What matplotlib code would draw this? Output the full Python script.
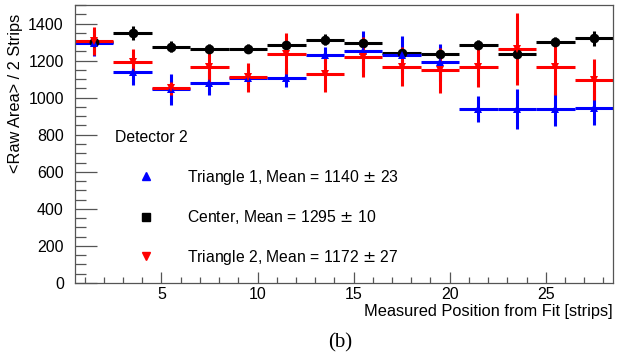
import matplotlib
matplotlib.use("Agg")
import matplotlib.pyplot as plt
from matplotlib.lines import Line2D
from matplotlib.ticker import MultipleLocator

plt.rcParams["font.family"] = ["Liberation Sans", "DejaVu Sans"]

# bin centres (2-strip bins from 0.5 to 28.5)
positions = [1.5, 3.5, 5.5, 7.5, 9.5, 11.5, 13.5, 15.5, 17.5, 19.5, 21.5, 23.5, 25.5, 27.5]
bin_half_width = [1.0] * len(positions)

center_vals = [1300, 1350, 1276, 1264, 1264, 1285, 1312, 1294, 1242, 1237, 1285, 1233, 1300, 1321]
center_errs = [25, 38, 27, 27, 25, 25, 30, 25, 25, 25, 25, 25, 25, 40]

tri1_vals = [1295, 1141, 1045, 1079, 1108, 1108, 1231, 1251, 1231, 1190, 940, 940, 937, 946]
tri1_errs = [70, 75, 85, 63, 40, 50, 45, 110, 100, 100, 70, 108, 90, 95]

tri2_vals = [1305, 1190, 1050, 1165, 1111, 1237, 1125, 1219, 1168, 1147, 1165, 1264, 1168, 1097]
tri2_errs = [75, 70, 35, 100, 78, 112, 97, 109, 105, 120, 110, 195, 155, 110]

labels = ["Triangle 1, Mean = 1140 $\\pm$ 23",
          "Center, Mean = 1295 $\\pm$ 10",
          "Triangle 2, Mean = 1172 $\\pm$ 27"]

fig = plt.figure(figsize=(6.3, 3.56), dpi=100)
ax = fig.add_axes([0.119, 0.205, 0.854, 0.781])

series = [
    (center_vals, center_errs, "black", "o", 7),
    (tri1_vals, tri1_errs, "blue", "^", 5.5),
    (tri2_vals, tri2_errs, "red", "v", 5.5),
]
for vals, errs, color, marker, ms in series:
    ax.errorbar(positions, vals, xerr=bin_half_width, yerr=errs, fmt=marker,
                color=color, ms=ms, elinewidth=2.2, capsize=0, mew=0)

ax.set_xlim(0.5, 28.5)
ax.set_ylim(0, 1500)
ax.xaxis.set_major_locator(MultipleLocator(5))
ax.xaxis.set_minor_locator(MultipleLocator(1))
ax.yaxis.set_major_locator(MultipleLocator(200))
ax.yaxis.set_minor_locator(MultipleLocator(50))
ax.tick_params(axis="both", which="both", direction="in", labelsize=11.5,
               color="#555555", width=0.9)
ax.tick_params(axis="y", which="major", length=16, pad=8)
ax.tick_params(axis="y", which="minor", length=8)
ax.tick_params(axis="x", which="major", length=8, pad=3)
ax.tick_params(axis="x", which="minor", length=4)
for spine in ax.spines.values():
    spine.set_color("#555555")
    spine.set_linewidth(0.9)

ax.set_xlabel("Measured Position from Fit [strips]", fontsize=11.8, loc="right")
ax.xaxis.set_label_coords(1.0, -0.075)
ax.set_ylabel("<Raw Area> / 2 Strips", fontsize=11.8, loc="top")
ax.yaxis.set_label_coords(-0.097, 0.968)

ax.text(0.074, 0.522, "Detector 2", transform=ax.transAxes, fontsize=11.3,
        va="center", ha="left")

handles = [
    Line2D([], [], ls="none", marker="^", color="blue", ms=6),
    Line2D([], [], ls="none", marker="s", color="black", ms=5.5),
    Line2D([], [], ls="none", marker="v", color="red", ms=6),
]
ax.legend(handles, labels, loc="upper left", bbox_to_anchor=(0.118, 0.415),
          frameon=False, fontsize=11.3, handlelength=1.0, handletextpad=2.1,
          labelspacing=1.38, borderpad=0, borderaxespad=0)

fig.text(0.54, 0.037, "(b)", family="Liberation Serif", fontsize=15,
         ha="center", va="center")

fig.savefig("out.png", dpi=100)
